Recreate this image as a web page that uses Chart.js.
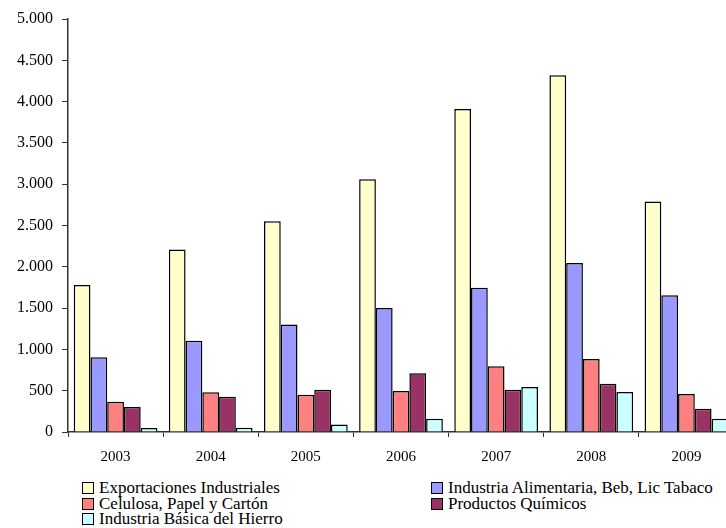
<!DOCTYPE html>
<html>
<head>
<meta charset="utf-8">
<script src="https://cdn.jsdelivr.net/npm/chart.js@4"></script>
<style>
  body { margin: 0; background: #fff; overflow: hidden; width: 726px; height: 528px; position: relative; }
  #wrap { position: absolute; left: 0; top: 0; width: 740px; height: 462px; }
  #legend { position: absolute; left: 82px; top: 480px; display: grid; grid-template-columns: 349px auto;
    font-family: "Liberation Serif", serif; font-size: 17px; color: #000; line-height: 15.5px; }
  #legend div { white-space: nowrap; }
  #legend span { display: inline-block; width: 10px; height: 10px; border: 1.5px solid #000; margin-right: 5px; vertical-align: -1px; }
</style>
</head>
<body>
<div id="wrap"><canvas id="c"></canvas></div>
<div id="legend"></div>
<script>
const years = ['2003', '2004', '2005', '2006', '2007', '2008', '2009'];
const exportaciones = [1780, 2210, 2550, 3060, 3910, 4320, 2790];
const alimentaria = [905, 1105, 1300, 1500, 1745, 2045, 1655];
const celulosa = [367, 480, 450, 495, 795, 885, 460];
const quimicos = [303, 427, 510, 710, 512, 585, 282];
const hierro = [48, 50, 90, 160, 545, 484, 161];

const seriesNames = ['Exportaciones Industriales', 'Industria Alimentaria, Beb, Lic Tabaco',
  'Celulosa, Papel y Cartón', 'Productos Químicos', 'Industria Básica del Hierro'];
const seriesColors = ['#FFFFCC', '#9999FF', '#FF8080', '#993366', '#CCFFFF'];
const seriesData = [exportaciones, alimentaria, celulosa, quimicos, hierro];

const family = '"Liberation Serif", serif';

new Chart(document.getElementById('c'), {
  type: 'bar',
  data: {
    labels: years,
    datasets: seriesData.map((d, i) => ({
      label: seriesNames[i],
      data: d,
      backgroundColor: seriesColors[i],
      borderColor: '#000',
      borderWidth: 1.5,
      categoryPercentage: 0.88,
      barPercentage: 1
    }))
  },
  options: {
    responsive: true,
    maintainAspectRatio: false,
    animation: false,
    layout: { padding: { top: 19, right: 6, left: 0, bottom: 0 } },
    plugins: { legend: { display: false }, tooltip: { enabled: false } },
    scales: {
      x: {
        grid: { drawOnChartArea: false, offset: true, tickLength: 5, color: '#333' },
        border: { color: '#333', width: 1.5 },
        ticks: { font: { family, size: 15 }, color: '#000', padding: 11 },
        afterFit: s => { s.height = 30; }
      },
      y: {
        min: 0, max: 5000,
        grid: { drawOnChartArea: false, tickLength: 6, color: '#333' },
        border: { color: '#333', width: 1.5 },
        ticks: {
          stepSize: 500, font: { family, size: 16 }, color: '#000', padding: 9,
          callback: v => v.toLocaleString('de-DE')
        },
        afterFit: s => { s.width = 68; }
      }
    }
  }
});

const legend = document.getElementById('legend');
seriesNames.forEach((n, i) => {
  const d = document.createElement('div');
  d.innerHTML = '<span style="background:' + seriesColors[i] + '"></span>' + n;
  legend.appendChild(d);
});
</script>
</body>
</html>
